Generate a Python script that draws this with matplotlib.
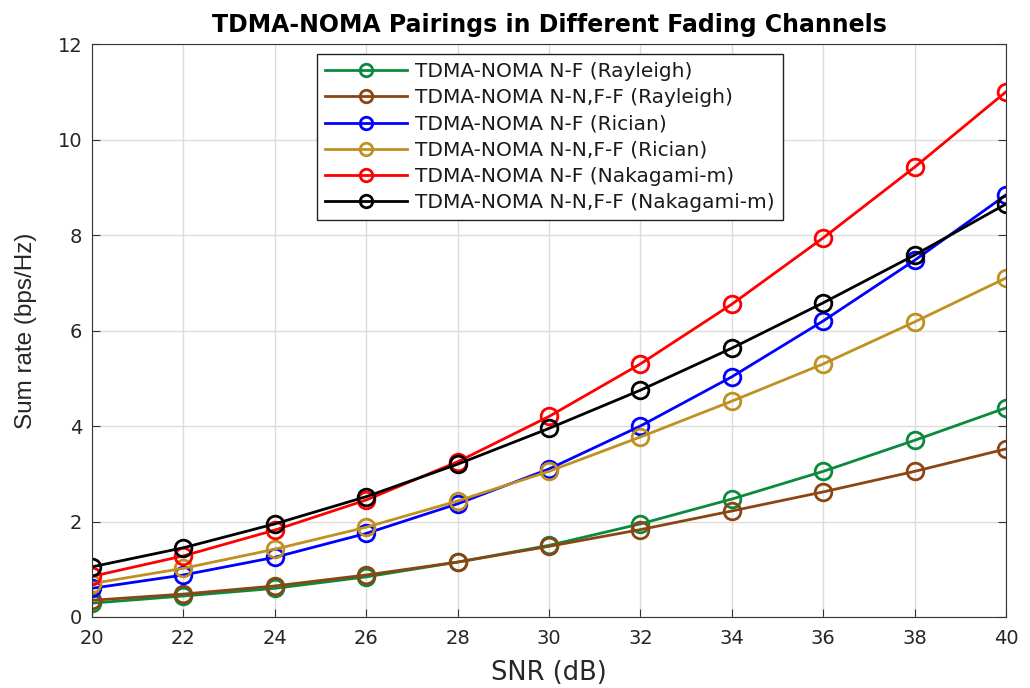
import matplotlib
matplotlib.use("Agg")
import matplotlib.pyplot as plt

plt.rcParams['font.family'] = ['DejaVu Sans']

snr = [20, 22, 24, 26, 28, 30, 32, 34, 36, 38, 40]

nf_rayleigh = [0.29, 0.44, 0.60, 0.84, 1.15, 1.50, 1.95, 2.47, 3.05, 3.70, 4.38]
nn_rayleigh = [0.35, 0.48, 0.65, 0.88, 1.15, 1.48, 1.83, 2.22, 2.62, 3.05, 3.52]
nf_rician = [0.60, 0.88, 1.25, 1.75, 2.37, 3.10, 4.00, 5.03, 6.20, 7.47, 8.84]
nn_rician = [0.70, 1.02, 1.42, 1.88, 2.43, 3.05, 3.77, 4.52, 5.30, 6.18, 7.10]
nf_nakagami = [0.85, 1.28, 1.82, 2.45, 3.25, 4.20, 5.30, 6.55, 7.94, 9.42, 11.00]
nn_nakagami = [1.05, 1.45, 1.95, 2.52, 3.20, 3.95, 4.75, 5.63, 6.58, 7.58, 8.65]

series = [
    (nf_rayleigh, '#0b8a3e', 'TDMA-NOMA N-F (Rayleigh)'),
    (nn_rayleigh, '#8b4513', 'TDMA-NOMA N-N,F-F (Rayleigh)'),
    (nf_rician, '#0000ff', 'TDMA-NOMA N-F (Rician)'),
    (nn_rician, '#c09020', 'TDMA-NOMA N-N,F-F (Rician)'),
    (nf_nakagami, '#ff0000', 'TDMA-NOMA N-F (Nakagami-m)'),
    (nn_nakagami, '#000000', 'TDMA-NOMA N-N,F-F (Nakagami-m)'),
]

fig = plt.figure(figsize=(10.3, 6.88), dpi=100)
ax = fig.add_axes([0.0893, 0.1032, 0.8874, 0.8328])

for vals, col, lab in series:
    ax.plot(snr, vals, color=col, linewidth=2, marker='o', markersize=12,
            markerfacecolor='none', markeredgewidth=2, label=lab)

ax.set_xlim(20, 40)
ax.set_ylim(0, 12)
ax.set_xticks(snr)
ax.set_yticks(range(0, 13, 2))
ax.grid(True, color='#dcdcdc', linewidth=1)
ax.tick_params(direction='in', labelsize=14, length=6, top=False, right=True,
               colors='#333333', labelcolor='#262626')
ax.tick_params(axis='x', pad=9)
ax.tick_params(axis='y', pad=7)
for s in ax.spines.values():
    s.set_color('#333333')

ax.set_xlabel('SNR (dB)', fontsize=18.5, color='#262626', labelpad=8)
ax.set_ylabel('Sum rate (bps/Hz)', fontsize=17.5, color='#262626',
              family='Liberation Sans', labelpad=15)
ax.set_title('TDMA-NOMA Pairings in Different Fading Channels', fontsize=17,
             fontweight='bold', pad=9)

leg = ax.legend(loc='upper center', bbox_to_anchor=(0.501, 1.0), fontsize=14.5,
                handlelength=4.1, labelspacing=0.36, fancybox=False,
                framealpha=1, borderpad=0.4, handletextpad=0.4)
leg.get_frame().set_edgecolor('#222222')
for t in leg.get_texts():
    t.set_color('#1a1a1a')
for h in leg.legend_handles:
    h.set_markersize(9)

fig.savefig('out.png', dpi=100)
